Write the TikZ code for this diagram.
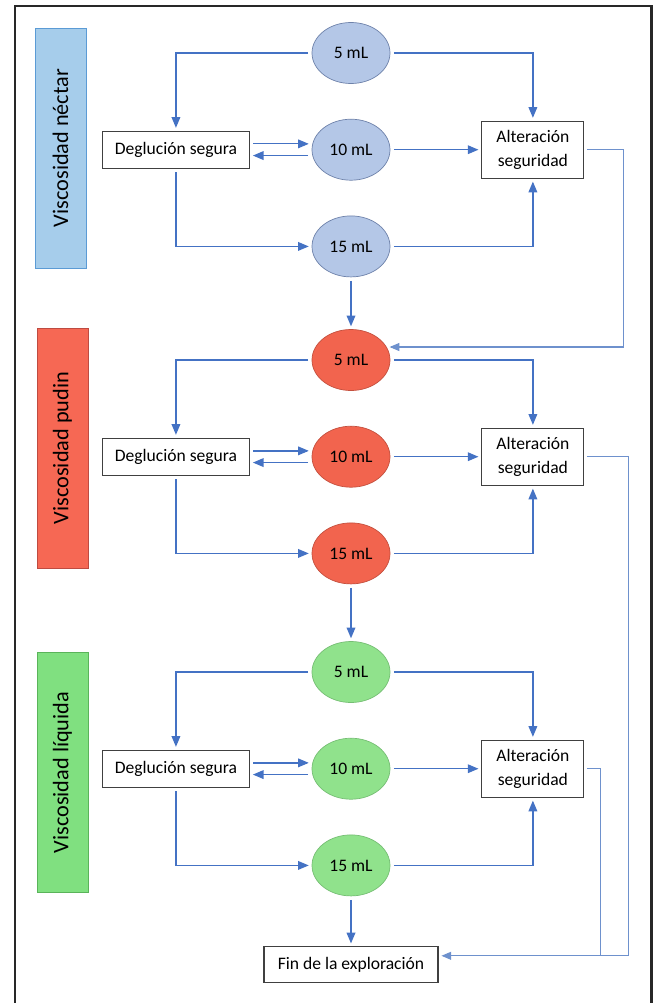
\documentclass[tikz,border=0pt]{standalone}
\usepackage{fontspec}
\setmainfont{Carlito}
\usepackage{tikz}
\usetikzlibrary{arrows}
\usetikzlibrary{shapes}
\usetikzlibrary{positioning}

\definecolor{flecha}{RGB}{68,114,196}
\definecolor{retorno}{RGB}{110,145,205}
\definecolor{marco}{RGB}{40,40,40}
\definecolor{gris}{RGB}{64,64,64}
\definecolor{azul}{RGB}{180,199,231}
\definecolor{azulborde}{RGB}{110,130,170}
\definecolor{rojo}{RGB}{242,100,78}
\definecolor{rojoborde}{RGB}{196,80,62}
\definecolor{verde}{RGB}{144,226,140}
\definecolor{verdeborde}{RGB}{118,190,116}
\definecolor{azulvisc}{RGB}{166,205,235}
\definecolor{azulvborde}{RGB}{91,155,213}
\definecolor{rojovisc}{RGB}{246,104,84}
\definecolor{rojovborde}{RGB}{190,75,65}
\definecolor{verdevisc}{RGB}{128,224,128}
\definecolor{verdevborde}{RGB}{90,180,90}

\begin{document}
\begin{tikzpicture}[x=0.03cm, y=-0.03cm, node distance=1.05cm, font=\fontsize{15}{20}\selectfont]
  \tikzstyle{circ}=[ellipse, inner sep=0pt, minimum width=2.34cm, minimum height=1.83cm, line width=0.6pt]
  \tikzstyle{bcirc}=[circ, fill=azul, draw=azulborde]
  \tikzstyle{rcirc}=[circ, fill=rojo, draw=rojoborde]
  \tikzstyle{gcirc}=[circ, fill=verde, draw=verdeborde]
  \tikzstyle{caja}=[rectangle, draw=gris, line width=0.9pt, fill=white, text centered]
  \tikzstyle{degbox}=[caja, minimum width=4.41cm, minimum height=1.11cm]
  \tikzstyle{altbox}=[caja, align=center, minimum width=3.06cm, minimum height=1.71cm]
  \tikzstyle{finbox}=[caja, minimum width=5.22cm, minimum height=1.08cm]
  \tikzstyle{visc}=[rectangle, rotate=90, minimum width=7.2cm, minimum height=1.53cm, line width=0.8pt, font=\fontsize{19}{22}\selectfont]
  \tikzstyle{arr}=[-triangle 45, draw=flecha, line width=1.1pt, shorten <=3pt, shorten >=2.5pt]
  \tikzstyle{ret}=[draw=retorno, line width=0.9pt, shorten <=2pt]

  \useasboundingbox (0,0) rectangle (653,1003);
  \draw[marco, line width=1.8pt] (15,1003) -- (15,6) -- (651.5,6) -- (651.5,1003);

  % viscosidad nectar
  \node (vna) [visc, fill=azulvisc, draw=azulvborde] at (60.5,148) {Viscosidad néctar};
  \node (c5a) [bcirc] at (351,53) {5 mL};
  \node (c10a) [bcirc, below=of c5a] {10 mL};
  \node (c15a) [bcirc, below=of c10a] {15 mL};
  \node (dega) [degbox, left=1.85cm of c10a] {Deglución segura};
  \node (alta) [altbox, right=2.73cm of c10a] {Alteración\\ seguridad};

  % viscosidad pudin
  \node (vnb) [visc, fill=rojovisc, draw=rojovborde] at (62.5,448) {Viscosidad pudin};
  \node (c5b) [rcirc] at (351,360) {5 mL};
  \node (c10b) [rcirc, below=of c5b] {10 mL};
  \node (c15b) [rcirc, below=of c10b] {15 mL};
  \node (degb) [degbox, left=1.85cm of c10b] {Deglución segura};
  \node (altb) [altbox, right=2.73cm of c10b] {Alteración\\ seguridad};

  % viscosidad liquida
  \node (vnc) [visc, fill=verdevisc, draw=verdevborde] at (62.5,772.5) {Viscosidad líquida};
  \node (c5c) [gcirc] at (351,672) {5 mL};
  \node (c10c) [gcirc, below=of c5c] {10 mL};
  \node (c15c) [gcirc, below=of c10c] {15 mL};
  \node (degc) [degbox, left=1.85cm of c10c] {Deglución segura};
  \node (altc) [altbox, right=2.73cm of c10c] {Alteración\\ seguridad};

  \node (fin) [finbox, below=1.5cm of c15c] {Fin de la exploración};

  \draw[arr] (c5a.west) -| (dega.north);
  \draw[arr] (c5a.east) -| (alta.north);
  \draw[arr] ([yshift=5pt]dega.east) -- ([yshift=5pt]c10a.west);
  \draw[arr] ([yshift=-5pt]c10a.west) -- ([yshift=-5pt]dega.east);
  \draw[arr] (c10a.east) -- (alta.west);
  \draw[arr] (dega.south) |- (c15a.west);
  \draw[arr] (c15a.east) -| (alta.south);
  \draw[arr] (c15a.south) -- (c5b.north);
  \draw[arr, ret] (alta.east) -| ([xshift=7.1cm]c5b.20) -- (c5b.20);

  \draw[arr] (c5b.west) -| (degb.north);
  \draw[arr] (c5b.east) -| (altb.north);
  \draw[arr] ([yshift=5pt]degb.east) -- ([yshift=5pt]c10b.west);
  \draw[arr] ([yshift=-5pt]c10b.west) -- ([yshift=-5pt]degb.east);
  \draw[arr] (c10b.east) -- (altb.west);
  \draw[arr] (degb.south) |- (c15b.west);
  \draw[arr] (c15b.east) -| (altb.south);
  \draw[arr] (c15b.south) -- (c5c.north);

  \draw[arr] (c5c.west) -| (degc.north);
  \draw[arr] (c5c.east) -| (altc.north);
  \draw[arr] ([yshift=5pt]degc.east) -- ([yshift=5pt]c10c.west);
  \draw[arr] ([yshift=-5pt]c10c.west) -- ([yshift=-5pt]degc.east);
  \draw[arr] (c10c.east) -- (altc.west);
  \draw[arr] (degc.south) |- (c15c.west);
  \draw[arr] (c15c.east) -| (altc.south);
  \draw[arr] (c15c.south) -- (fin.north);

  \coordinate (fo) at ([xshift=5.7cm, yshift=0.27cm]fin.east);
  \coordinate (fi) at ([xshift=4.86cm, yshift=0.27cm]fin.east);
  \draw[ret] (altb.east) -| (fo) -- (fi);
  \draw[arr, ret] (altc.east) -| (fi) -- (fin.east |- fi);
\end{tikzpicture}
\end{document}
